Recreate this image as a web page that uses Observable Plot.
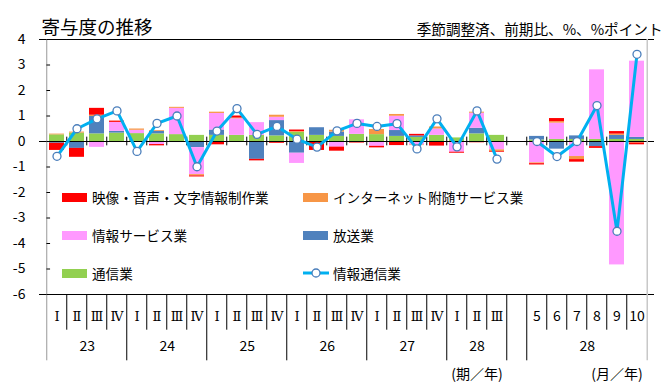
<!DOCTYPE html>
<html><head><meta charset="utf-8">
<script src="https://cdn.jsdelivr.net/npm/d3@7"></script>
<script src="https://cdn.jsdelivr.net/npm/@observablehq/plot@0.6"></script>
<style>
body{margin:0;background:#fff;}
#wrap{position:relative;width:670px;height:392px;font-family:"Noto Sans CJK JP","Noto Sans",sans-serif;}
.lg{position:absolute;height:20px;display:flex;align-items:center;font-size:13.6px;color:#000;white-space:nowrap;}
.sw{display:inline-block;width:25px;height:9px;margin-right:5px;}
</style></head><body><div id="wrap"></div>
<script>
// ---- data ----
const periodKeys = ["23Q1","23Q2","23Q3","23Q4","24Q1","24Q2","24Q3","24Q4","25Q1","25Q2","25Q3","25Q4","26Q1","26Q2","26Q3","26Q4","27Q1","27Q2","27Q3","27Q4","28Q1","28Q2","28Q3","gap","28M5","28M6","28M7","28M8","28M9","28M10"];
const tickLabels = ["Ⅰ","Ⅱ","Ⅲ","Ⅳ","Ⅰ","Ⅱ","Ⅲ","Ⅳ","Ⅰ","Ⅱ","Ⅲ","Ⅳ","Ⅰ","Ⅱ","Ⅲ","Ⅳ","Ⅰ","Ⅱ","Ⅲ","Ⅳ","Ⅰ","Ⅱ","Ⅲ","","5","6","7","8","9","10"];
const groupLabels = ["23","24","25","26","27","28","28"];
const groupFirst = ["23Q1","24Q1","25Q1","26Q1","27Q1","28Q1","28M5"];
const groupLast  = ["23Q4","24Q4","25Q4","26Q4","27Q4","28Q3","28M10"];
const yTicks = [4,3,2,1,0,-1,-2,-3,-4,-5,-6];

// stacking order (closest to zero first)
const seriesNames = ["通信業","放送業","情報サービス業","インターネット附随サービス業","映像・音声・文字情報制作業"];
const seriesColors = ["#92D050","#4F81BD","#FF99FF","#F79646","#FF0000"];

const tsushin = [0.26,0.33,0.30,0.33, 0.31,0.30,0.27,0.24, 0.24,0.24,0.24,0.22, 0.36,0.24,0.20,0.28, 0.27,0.20,0.16,0.24, 0.14,0.30,0.24, null, 0.06,0.08,0.08,0.08,0.08,0.08];
const hoso    = [-0.07,-0.27,0.68,0.07, 0,0.10,-0.04,-0.24, 0.21,0,-0.70,0.60, -0.46,0.30,0.17,0, 0,0.23,0.06,0, 0,0.22,0, null, 0.14,-0.30,0.14,-0.20,0.16,0.08];
const johoSvc = [0,0,-0.23,0.35, 0.13,-0.12,1.03,-1.06, 0.65,0.65,0.50,0.13, -0.40,0,-0.22,0.57, -0.19,0.56,-0.14,0.25, -0.42,0.59,-0.33, null, -0.84,0.64,-0.59,2.73,-4.84,2.99];
const internet= [0.03,0.04,0.05,-0.04, 0.05,0.03,0.04,-0.05, 0.05,0.03,0,0.08, 0.03,0,0.07,0, 0.20,0.07,-0.02,0.08, 0,0.04,-0.06, null, -0.03,0.06,-0.12,0,0.05,-0.06];
const eizo    = [-0.28,-0.35,0.27,0.05, 0,-0.05,0,-0.04, -0.13,0.08,-0.06,-0.07, 0.06,-0.35,-0.16,-0.06, -0.06,-0.16,0.06,-0.18, -0.04,-0.05,-0.03, null, -0.05,0.12,-0.10,-0.07,0.10,-0.07];
const total   = [-0.58,0.50,0.89,1.20, -0.39,0.71,1.00,-0.99, 0.41,1.29,0.28,0.59, 0.09,-0.22,0.42,0.71, 0.59,0.70,-0.29,0.89, -0.21,1.20,-0.69, null, 0.00,-0.59,0.00,1.41,-3.52,3.42];
const seriesValues = [tsushin, hoso, johoSvc, internet, eizo];

const legendNames = ["映像・音声・文字情報制作業","インターネット附随サービス業","情報サービス業","放送業","通信業","情報通信業"];

// ---- layout ----
const W = 670, H = 392, ML = 39, MR = 16, MT = 39, MB = 98;
const step = (W - ML - MR) / periodKeys.length;
const padIn = 0.25, bandW = step * (1 - padIn);
const font = "'Noto Sans CJK JP','Noto Sans',sans-serif";

const rows = seriesNames.flatMap((s, si) => seriesValues[si].map((v, i) => ({key: periodKeys[i], series: s, value: v})))
  .filter(d => d.value != null && d.value !== 0);
const lineRows = periodKeys.map((k, i) => ({key: k, value: total[i], seg: k.includes("M") ? "m" : "q"}))
  .filter(d => d.value != null);

const longStarts = new Set([...groupFirst, "gap"]);
const inner = periodKeys.slice(1);
const shortSep = inner.filter(k => !longStarts.has(k));
const longSep = inner.filter(k => longStarts.has(k));

const groups = groupLabels.map((g, j) => {
  const mid = (periodKeys.indexOf(groupFirst[j]) + periodKeys.indexOf(groupLast[j])) / 2;
  return {label: g, key: periodKeys[Math.floor(mid)], half: mid % 1 !== 0};
});

const chart = Plot.plot({
  width: W, height: H, marginLeft: ML, marginRight: MR, marginTop: MT, marginBottom: MB,
  x: {type: "band", domain: periodKeys, paddingInner: padIn, paddingOuter: padIn / 2, axis: null},
  y: {domain: [-6, 4], axis: null},
  color: {domain: seriesNames, range: seriesColors},
  style: {fontFamily: font, fontSize: "14px", background: "white", overflow: "visible", color: "#000"},
  marks: [
    Plot.barY(rows, {x: "key", y: "value", fill: "series"}),
    Plot.ruleY([4], {stroke: "#000"}),
    Plot.ruleY([-6], {stroke: "#000"}),
    Plot.ruleY([0], {stroke: "#000", strokeWidth: 1.2}),
    // zero-line ticks at category boundaries
    Plot.ruleX(inner, {x: d => d, dx: -step / 2, y1: -0.17, y2: 0.17, stroke: "#000"}),
    // left axis and right border
    Plot.ruleX([periodKeys[0]], {x: d => d, dx: -step / 2, y1: 4, y2: -8.6, stroke: "#999"}),
    Plot.ruleX([periodKeys[periodKeys.length - 1]], {x: d => d, dx: step / 2, y1: 4, y2: -8.6, stroke: "#c8c8c8", strokeWidth: 1.5}),
    // category separators below the plot
    Plot.ruleX(shortSep, {x: d => d, dx: -step / 2, y1: -6, y2: -7.4, stroke: "#000"}),
    Plot.ruleX(longSep, {x: d => d, dx: -step / 2, y1: -6, y2: -8.6, stroke: "#000"}),
    // y inward ticks
    Plot.tickY(yTicks, {y: d => d, x: () => periodKeys[0], dx: -step * padIn / 2, insetRight: bandW - 4, stroke: "#000"}),
    // line
    Plot.line(lineRows, {x: "key", y: "value", z: "seg", stroke: "#00B0F0", strokeWidth: 3}),
    Plot.dot(lineRows, {x: "key", y: "value", r: 4, fill: "white", stroke: "#4A7EBB", strokeWidth: 1.3}),
    // y labels
    Plot.text(yTicks, {y: d => d, text: d => String(d), frameAnchor: "left", dx: -14, textAnchor: "end", fontSize: 14}),
    // category labels
    Plot.text(periodKeys.filter((k, i) => /^[ⅠⅡⅢⅣ]$/.test(tickLabels[i])), {x: d => d, text: d => tickLabels[periodKeys.indexOf(d)], frameAnchor: "bottom", dy: 26, fontFamily: "'DejaVu Serif','Liberation Serif',serif", fontSize: 13}),
    Plot.text(periodKeys.filter((k, i) => /^\d+$/.test(tickLabels[i])), {x: d => d, text: d => tickLabels[periodKeys.indexOf(d)], frameAnchor: "bottom", dy: 26, fontSize: 14}),
    Plot.text(groups.filter(g => g.half), {x: "key", text: "label", frameAnchor: "bottom", dy: 56, dx: step / 2, fontSize: 14}),
    Plot.text(groups.filter(g => !g.half), {x: "key", text: "label", frameAnchor: "bottom", dy: 56, fontSize: 14}),
    Plot.text(["(期／年)"], {x: () => "28Q2", frameAnchor: "bottom", dy: 84, fontSize: 14}),
    Plot.text(["(月／年)"], {x: () => "28M9", frameAnchor: "bottom", dy: 84, fontSize: 14}),
    // title / subtitle
    Plot.text(["寄与度の推移"], {frameAnchor: "top-left", dx: 2, dy: -19, textAnchor: "start", fontSize: 18.5}),
    Plot.text(["季節調整済、前期比、%、%ポイント"], {frameAnchor: "top-right", dx: 8, dy: -15, textAnchor: "end", fontSize: 14.6})
  ]
});

const wrap = document.getElementById("wrap");
wrap.appendChild(chart);

// legend overlay inside the plot area
const colorOf = Object.fromEntries(seriesNames.map((s, i) => [s, seriesColors[i]]));
legendNames.forEach((name, i) => {
  const col = i % 2, row = Math.floor(i / 2);
  const div = document.createElement("div");
  div.className = "lg";
  div.style.left = (col ? 303 : 62) + "px";
  div.style.top = (187 + row * 38) + "px";
  if (colorOf[name]) {
    div.innerHTML = `<span class="sw" style="background:${colorOf[name]}"></span>${name}`;
  } else {
    div.innerHTML = `<svg width="26" height="12" style="margin-right:4px"><line x1="0" y1="6" x2="26" y2="6" stroke="#00B0F0" stroke-width="3"/><circle cx="13" cy="6" r="4" fill="white" stroke="#4A7EBB" stroke-width="1.3"/></svg>${name}`;
  }
  wrap.appendChild(div);
});
</script>
</body></html>
